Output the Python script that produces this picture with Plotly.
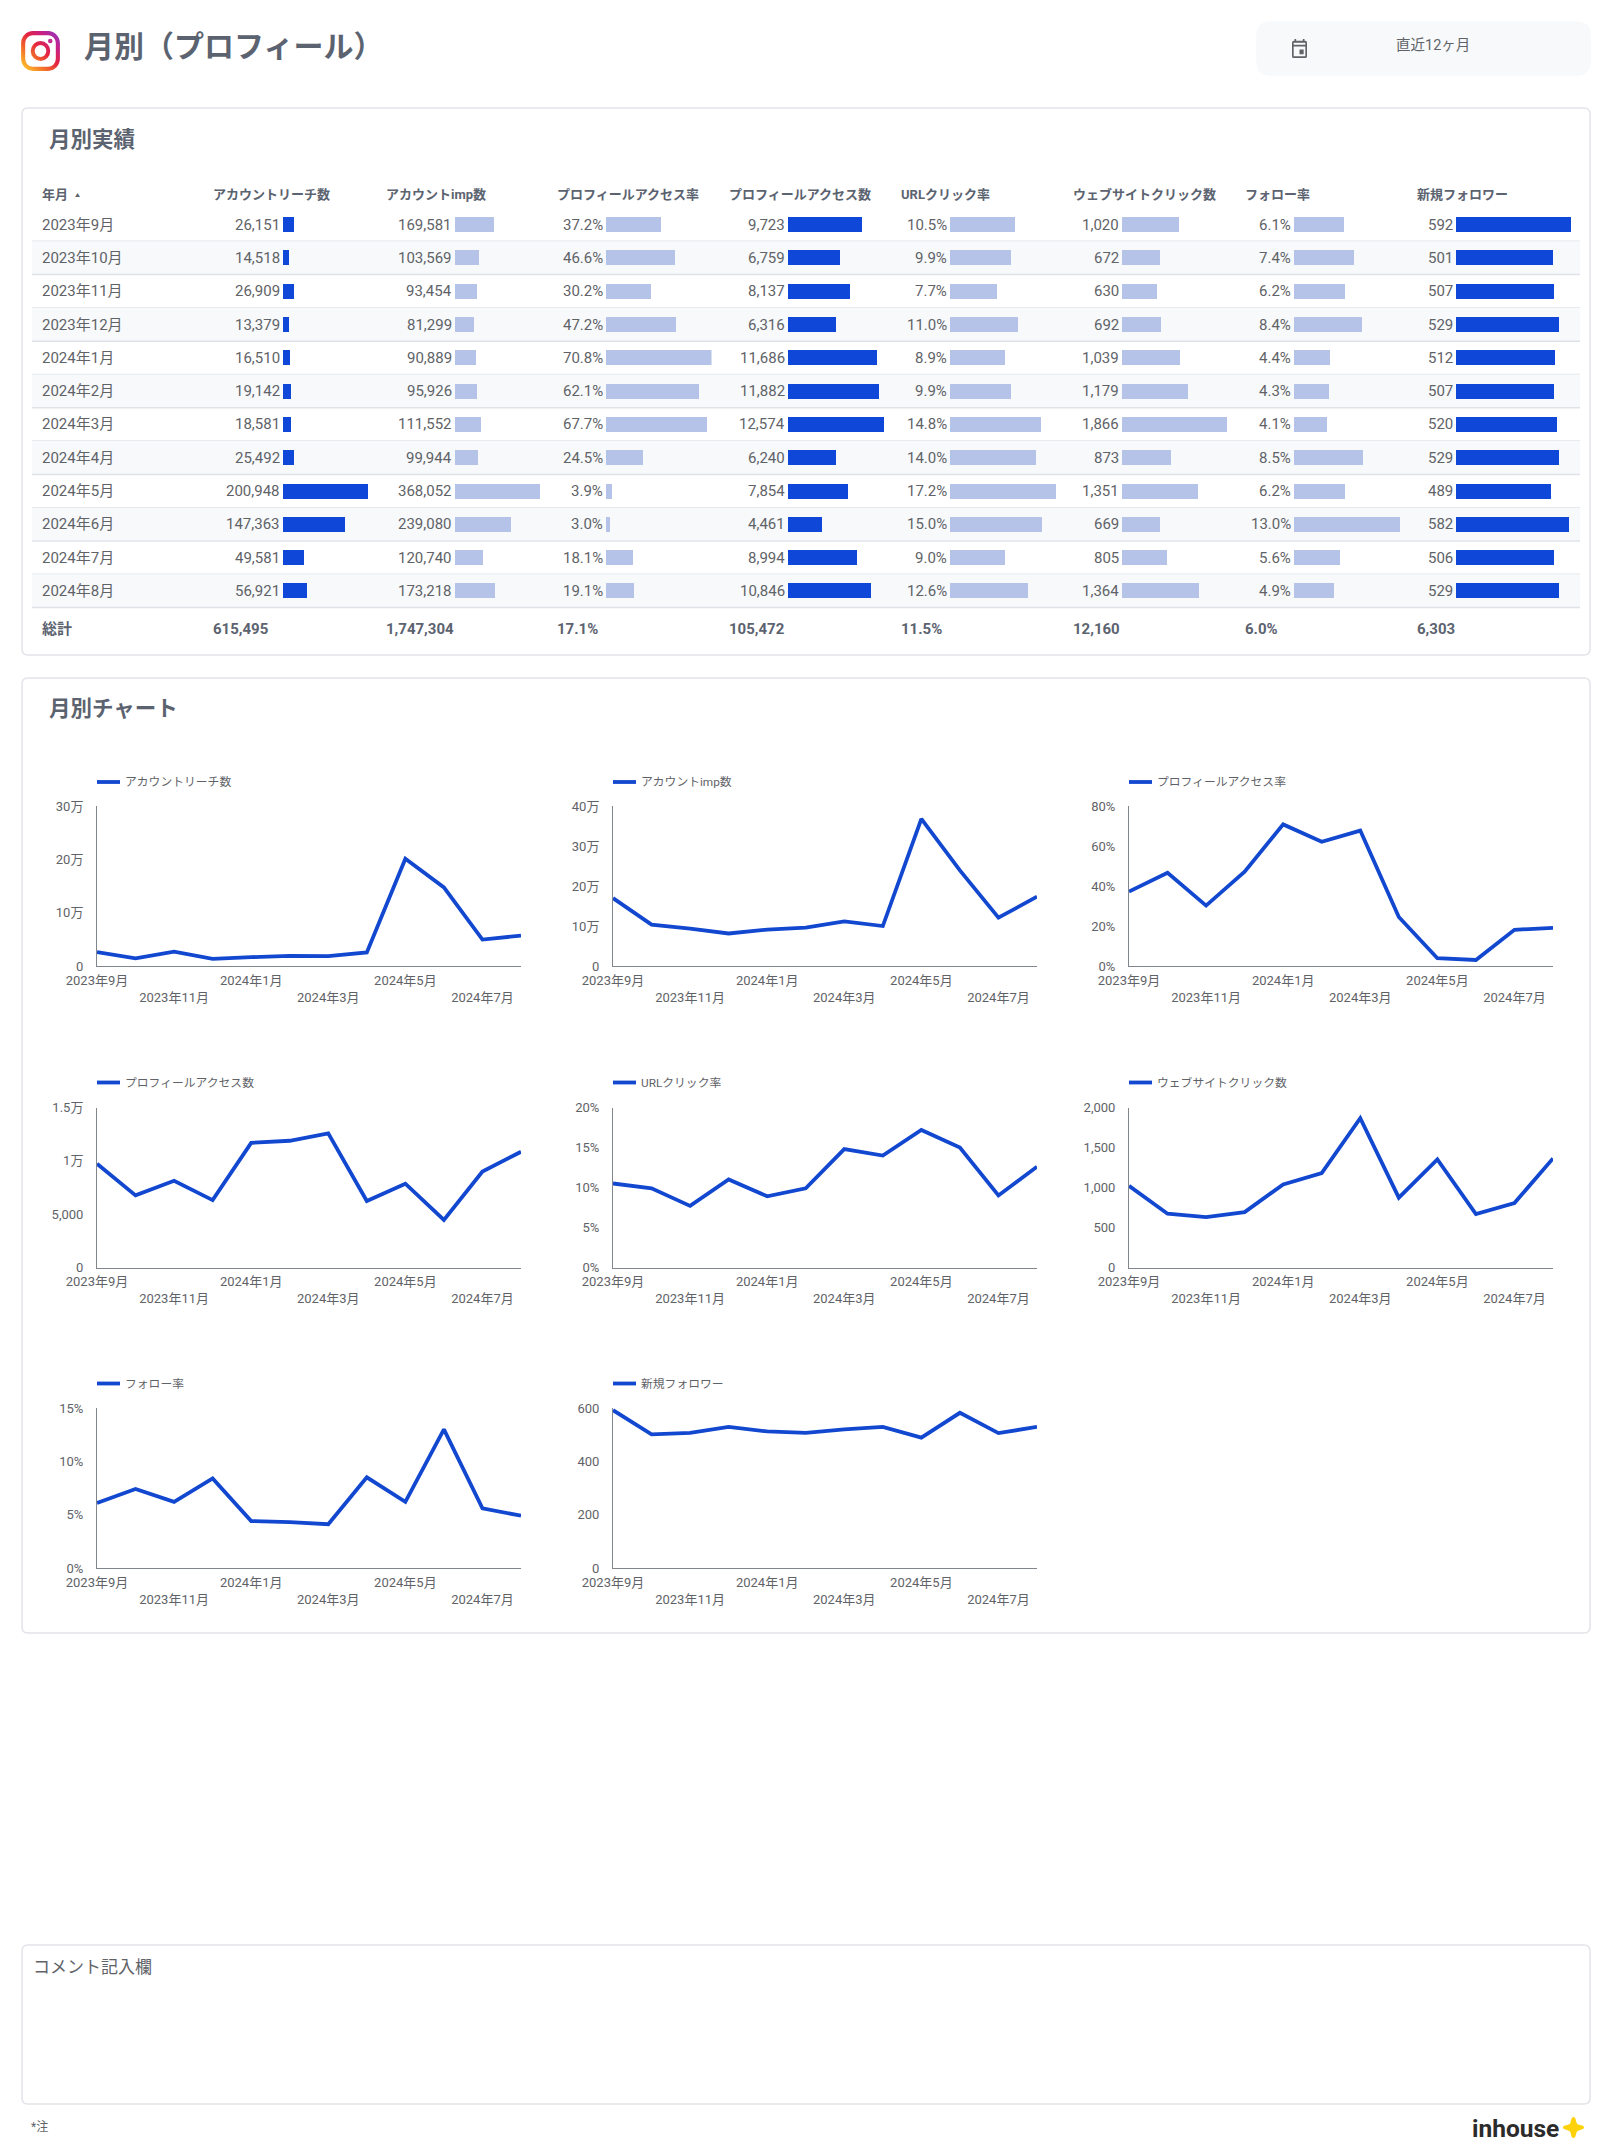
"""Monthly Instagram profile report page: table with inline bars plus small line charts."""

import base64

import plotly.graph_objects as go

WIDTH = 1612
HEIGHT = 2149
PAGE_MARGIN = 8  # the browser's default body margin
FONT = "Roboto, 'Noto Sans CJK JP', sans-serif"
TEXT = "#5f6368"
TITLE = "#5c6370"
DARK = "#0f47d9"
LIGHT = "#b5c3e8"
LINE = "#1247d0"
BORDER = "#e2e4e8"

MONTHS = ["2023年9月", "2023年10月", "2023年11月", "2023年12月", "2024年1月", "2024年2月",
          "2024年3月", "2024年4月", "2024年5月", "2024年6月", "2024年7月", "2024年8月"]

REACH = [26151, 14518, 26909, 13379, 16510, 19142, 18581, 25492, 200948, 147363, 49581, 56921]
IMP = [169581, 103569, 93454, 81299, 90889, 95926, 111552, 99944, 368052, 239080, 120740, 173218]
ACCESS_RATE = [37.2, 46.6, 30.2, 47.2, 70.8, 62.1, 67.7, 24.5, 3.9, 3.0, 18.1, 19.1]
ACCESS = [9723, 6759, 8137, 6316, 11686, 11882, 12574, 6240, 7854, 4461, 8994, 10846]
URL_RATE = [10.5, 9.9, 7.7, 11.0, 8.9, 9.9, 14.8, 14.0, 17.2, 15.0, 9.0, 12.6]
WEB = [1020, 672, 630, 692, 1039, 1179, 1866, 873, 1351, 669, 805, 1364]
FOLLOW_RATE = [6.1, 7.4, 6.2, 8.4, 4.4, 4.3, 4.1, 8.5, 6.2, 13.0, 5.6, 4.9]
NEW_FOLLOWERS = [592, 501, 507, 529, 512, 507, 520, 529, 489, 582, 506, 529]

NAMES = ["アカウントリーチ数", "アカウントimp数", "プロフィールアクセス率", "プロフィールアクセス数",
         "URLクリック率", "ウェブサイトクリック数", "フォロー率", "新規フォロワー"]
SERIES = [REACH, IMP, ACCESS_RATE, ACCESS, URL_RATE, WEB, FOLLOW_RATE, NEW_FOLLOWERS]
TOTALS = ["615,495", "1,747,304", "17.1%", "105,472", "11.5%", "12,160", "6.0%", "6,303"]
IS_RATE = [False, False, True, False, True, False, True, False]

# table geometry, page pixels
HEADER_X = [212, 384.5, 556, 728, 900, 1072, 1244, 1416]
BAR_X = [283, 454.5, 606, 788, 950, 1122, 1294, 1456]
BAR_W = [85, 85.5, 105.5, 96, 106, 105, 106, 115]
BAR_COLORS = [DARK, LIGHT, LIGHT, DARK, LIGHT, LIGHT, LIGHT, DARK]
ROW_TOP = 208
ROW_H = 33.3

# small multiples
CHART_LEFT = [97, 613, 1129]
CHART_TOP = [806, 1107.5, 1408]
LEGEND_Y = [782, 1082.5, 1383.5]
CHART_W = 424
CHART_H = 160
Y_TICKS = [
    ([0, 100000, 200000, 300000], ["0", "10万", "20万", "30万"]),
    ([0, 100000, 200000, 300000, 400000], ["0", "10万", "20万", "30万", "40万"]),
    ([0, 20, 40, 60, 80], ["0%", "20%", "40%", "60%", "80%"]),
    ([0, 5000, 10000, 15000], ["0", "5,000", "1万", "1.5万"]),
    ([0, 5, 10, 15, 20], ["0%", "5%", "10%", "15%", "20%"]),
    ([0, 500, 1000, 1500, 2000], ["0", "500", "1,000", "1,500", "2,000"]),
    ([0, 5, 10, 15], ["0%", "5%", "10%", "15%"]),
    ([0, 200, 400, 600], ["0", "200", "400", "600"]),
]


def px(x):
    return (x - PAGE_MARGIN) / (WIDTH - 2 * PAGE_MARGIN)


def py(y):
    return 1 - (y - PAGE_MARGIN) / (HEIGHT - 2 * PAGE_MARGIN)


def rounded_rect(x0, y0, x1, y1, r, fill, line=None):
    """Rounded box as a paper-referenced path shape."""
    rx = r / (WIDTH - 2 * PAGE_MARGIN)
    ry = r / (HEIGHT - 2 * PAGE_MARGIN)
    a, b, c, d = px(x0), px(x1), py(y0), py(y1)
    path = (f"M {a + rx} {c} L {b - rx} {c} Q {b} {c} {b} {c - ry} L {b} {d + ry} "
            f"Q {b} {d} {b - rx} {d} L {a + rx} {d} Q {a} {d} {a} {d + ry} "
            f"L {a} {c - ry} Q {a} {c} {a + rx} {c} Z")
    return dict(type="path", xref="paper", yref="paper", path=path, fillcolor=fill,
                line=dict(color=line or fill, width=1.5), layer="below")


def label(x, y, text, size=15, color=TEXT, bold=False, anchor="left"):
    return dict(xref="paper", yref="paper", x=px(x), y=py(y), text=text, showarrow=False,
                xanchor=anchor, yanchor="middle", borderpad=0,
                font=dict(family=FONT, size=size, color=color,
                          weight="bold" if bold else "normal"))


def svg_image(svg, x, y, w, h):
    data = base64.b64encode(svg.encode()).decode()
    return dict(source="data:image/svg+xml;base64," + data, xref="paper", yref="paper",
                x=px(x), y=py(y), sizex=w / (WIDTH - 2 * PAGE_MARGIN),
                sizey=h / (HEIGHT - 2 * PAGE_MARGIN), sizing="stretch", layer="above")


INSTAGRAM_SVG = """<svg xmlns="http://www.w3.org/2000/svg" viewBox="0 0 40 40">
<defs><linearGradient id="g" gradientUnits="userSpaceOnUse" x1="4" y1="38" x2="37" y2="3">
<stop offset="0" stop-color="#fcc02c"/><stop offset="0.3" stop-color="#f26a2a"/>
<stop offset="0.55" stop-color="#e4243f"/><stop offset="0.8" stop-color="#c81f87"/>
<stop offset="1" stop-color="#9a32b4"/>
</linearGradient></defs>
<rect x="2.2" y="2.2" width="35.6" height="35.6" rx="10" fill="none" stroke="url(#g)" stroke-width="4.2"/>
<circle cx="20" cy="20" r="8" fill="none" stroke="url(#g)" stroke-width="4"/>
<circle cx="30" cy="10" r="2.3" fill="#c32a8f"/></svg>"""

CALENDAR_SVG = """<svg xmlns="http://www.w3.org/2000/svg" viewBox="0 0 24 24">
<path fill="#5f6368" d="M19 4h-1V2h-2v2H8V2H6v2H5a2 2 0 0 0-2 2v14a2 2 0 0 0 2 2h14a2 2 0 0 0 2-2V6a2
2 0 0 0-2-2zm0 16H5V10h14v10zM5 8V6h14v2H5zm7 5h5v5h-5z"/></svg>"""

STAR_SVG = """<svg xmlns="http://www.w3.org/2000/svg" viewBox="0 0 24 24">
<path fill="#fdd20a" d="M12 1 C14 1 14.5 4 15 6.5 C15.5 8.5 17 9 19 9.5 C21 10 23 10.5 23 12
C23 13.5 21 14 19 14.5 C17 15 15.5 15.5 15 17.5 C14.5 20 14 23 12 23 C10 23 9.5 20 9 17.5
C8.5 15.5 7 15 5 14.5 C3 14 1 13.5 1 12 C1 10.5 3 10 5 9.5 C7 9 8.5 8.5 9 6.5 C9.5 4 10 1 12 1z"/></svg>"""

fig = go.Figure()
shapes = [
    rounded_rect(1257, 22, 1590, 75, 14, "#f7f9fb"),
    rounded_rect(22, 108, 1590, 655, 6, "#ffffff", BORDER),
    rounded_rect(22, 678, 1590, 1633, 6, "#ffffff", BORDER),
    rounded_rect(22, 1945, 1590, 2104, 6, "#ffffff", BORDER),
]
annotations = [
    label(83, 47, "月別（プロフィール）", 30, color=TITLE, bold=True),
    label(1433, 45, "直近12ヶ月", 14.5, anchor="center"),
    label(47.5, 139, "月別実績", 21.5, color=TITLE, bold=True),
    label(47.5, 709, "月別チャート", 21.5, color=TITLE, bold=True),
    label(41, 195, "年月", 13, color=TITLE, bold=True),
    label(77, 195, "▲", 5, anchor="center"),
    label(41, 629, "総計", 15, color=TITLE, bold=True),
    label(32, 1967, "コメント記入欄", 17),
    label(30, 2127, "*注", 12),
    label(1471, 2128, "inhouse", 24.5, color="#2b2b2b", bold=True),
]
images = [
    svg_image(INSTAGRAM_SVG, 21, 31, 39, 40),
    svg_image(CALENDAR_SVG, 1289.5, 37, 20, 23),
    svg_image(STAR_SVG, 1562, 2116, 23, 23),
]

# zebra rows and separators
for r in range(len(MONTHS)):
    top = ROW_TOP + r * ROW_H
    if r % 2 == 1:
        shapes.append(dict(type="rect", xref="paper", yref="paper", x0=px(32), x1=px(1580),
                           y0=py(top), y1=py(top + ROW_H), fillcolor="#f7f9fb",
                           line_width=0, layer="below"))
    shapes.append(dict(type="line", xref="paper", yref="paper", x0=px(32), x1=px(1580),
                       y0=py(top + ROW_H), y1=py(top + ROW_H),
                       line=dict(color="#dfe3e8", width=1.5), layer="below"))
    annotations.append(label(41, top + ROW_H / 2, MONTHS[r], 15))

layout = {
    "yaxis": dict(domain=[py(ROW_TOP + 12 * ROW_H), py(ROW_TOP)], range=[11.5, -0.5], visible=False,
                  automargin=False),
}

# table: one x axis per column, all rows on the shared y axis
for i, values in enumerate(SERIES):
    axis = f"x{i + 1}"
    layout[f"xaxis{i + 1}"] = dict(domain=[px(BAR_X[i]), px(BAR_X[i] + BAR_W[i])],
                                   range=[0, max(values)], visible=False, anchor="y", automargin=False)
    fig.add_trace(go.Bar(x=values, y=list(range(len(values))), orientation="h", width=0.45,
                         marker=dict(color=BAR_COLORS[i], line_width=0), xaxis=axis, yaxis="y",
                         showlegend=False, name=NAMES[i]))
    for r, v in enumerate(values):
        text = f"{v:.1f}%" if IS_RATE[i] else f"{v:,}"
        annotations.append(dict(xref=axis, yref="y", x=0, y=r, text=text, showarrow=False,
                                xanchor="right", xshift=-1, yanchor="middle",
                                font=dict(family=FONT, size=15, color=TEXT)))
    annotations.append(label(HEADER_X[i], 195, NAMES[i], 13, color=TITLE, bold=True))
    annotations.append(label(HEADER_X[i], 629, TOTALS[i], 15, color=TITLE, bold=True))

# small multiples
tick_vals = list(range(0, 12, 2))
tick_text = [m if n % 2 == 0 else "<br>" + m for n, m in enumerate(MONTHS[::2])]
for i, values in enumerate(SERIES):
    n = 9 + i
    row, col = divmod(i, 3)
    left, top = CHART_LEFT[col], CHART_TOP[row]
    vals, texts = Y_TICKS[i]
    tick_font = dict(family=FONT, size=13, color=TEXT)
    layout[f"xaxis{n}"] = dict(domain=[px(left), px(left + CHART_W)], range=[0, 11], anchor=f"y{n - 7}",
                               tickmode="array", tickvals=tick_vals, ticktext=tick_text, tickangle=0,
                               ticks="outside", ticklen=2, tickcolor="rgba(0,0,0,0)", automargin=False,
                               showgrid=False, zeroline=False, showline=True, linecolor="#80868b",
                               linewidth=1, tickfont=tick_font)
    layout[f"yaxis{n - 7}"] = dict(domain=[py(top + CHART_H), py(top)], range=[vals[0], vals[-1]],
                                   anchor=f"x{n}", tickmode="array", tickvals=vals, ticktext=texts,
                                   ticks="outside", ticklen=10, tickcolor="rgba(0,0,0,0)", automargin=False,
                                   showgrid=False, zeroline=False, showline=True, linecolor="#80868b",
                                   linewidth=1, tickfont=tick_font)
    fig.add_trace(go.Scatter(x=list(range(12)), y=values, mode="lines", cliponaxis=False,
                             line=dict(color=LINE, width=3.8), xaxis=f"x{n}", yaxis=f"y{n - 7}",
                             showlegend=False, name=NAMES[i]))
    # legend key, placed above each plot as in the report
    shapes.append(dict(type="line", xref="paper", yref="paper", x0=px(left), x1=px(left + 23),
                       y0=py(LEGEND_Y[row]), y1=py(LEGEND_Y[row]), line=dict(color=LINE, width=3.8)))
    annotations.append(label(left + 27, LEGEND_Y[row], NAMES[i], 11.8))

fig.update_layout(
    width=WIDTH - 2 * PAGE_MARGIN,
    height=HEIGHT - 2 * PAGE_MARGIN,
    margin=dict(l=0, r=0, t=0, b=0),
    paper_bgcolor="#ffffff",
    plot_bgcolor="rgba(0,0,0,0)",
    font=dict(family=FONT, color=TEXT),
    bargap=0,
    shapes=shapes,
    annotations=annotations,
    images=images,
    **layout,
)

fig.write_html("out.html")
